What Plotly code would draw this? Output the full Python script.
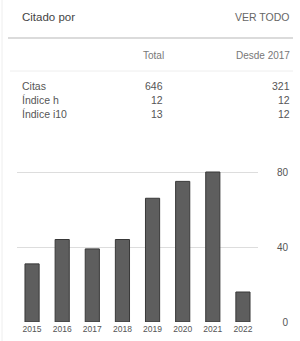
import plotly.graph_objects as go

years = ["2015", "2016", "2017", "2018", "2019", "2020", "2021", "2022"]
citations = [31, 44, 39, 44, 66, 75, 80, 16]
y_ticks = [0, 40, 80]
y_tick_labels = ["\u20070", "40", "80"]

header_title = "Citado por"
header_link = "VER TODO"
col_headers = ["Total", "Desde 2017"]
row_labels = ["Citas", "Índice h", "Índice i10"]
totals = ["646", "12", "13"]
since_2017 = ["321", "12", "12"]

W, H = 300, 341
L, R, T, B = 17, 42, 150, 19
PW = W - L - R
PH = H - T - B
BASE = H - B
YMAX = 80 * PH / 150.0

def px(x):
    return (x - L) / PW

def py(y):
    return (BASE - y) / PH

FONT = "Liberation Sans, Arial, sans-serif"

fig = go.Figure(go.Bar(
    x=years, y=citations,
    marker=dict(color="#5e5e5e", line=dict(color="#383838", width=1)),
    hoverinfo="skip",
))

ann = []
def text(x, y, s, anchor="left", size=11, color="#333"):
    ann.append(dict(x=px(x), y=py(y), xref="paper", yref="paper", text=s,
                    showarrow=False, xanchor=anchor, yanchor="middle",
                    font=dict(family=FONT, size=size, color=color)))

text(20, 17, header_title, "left", 11.5, "#444")
text(291, 17, header_link, "right", 10.5, "#666")
text(166, 56, col_headers[0], "right", 10, "#777")
text(292, 56, col_headers[1], "right", 10, "#777")
for i, lab in enumerate(row_labels):
    yy = 86 + i * 14
    text(20, yy, lab, "left", 10.5, "#555")
    text(165, yy, totals[i], "right", 10.5, "#555")
    text(292, yy, since_2017[i], "right", 10.5, "#555")

shapes = [
    dict(type="line", xref="paper", yref="paper", x0=px(8), x1=px(293), y0=py(38), y1=py(38),
         line=dict(color="#cfcfcf", width=1.5)),
    dict(type="line", xref="paper", yref="paper", x0=px(10), x1=px(293), y0=py(71), y1=py(71),
         line=dict(color="#eeeeee", width=1)),
    dict(type="line", xref="paper", yref="paper", x0=px(2), x1=px(2), y0=py(0), y1=py(341),
         line=dict(color="#eeeeee", width=1)),
]

fig.update_layout(
    width=W, height=H,
    margin=dict(l=L, r=R, t=T, b=B, pad=0, autoexpand=False),
    paper_bgcolor="white", plot_bgcolor="white",
    showlegend=False,
    bargap=0.53,
    annotations=ann,
    shapes=shapes,
    xaxis=dict(type="category", showgrid=False, zeroline=False, showline=False,
               ticks="", tickfont=dict(family=FONT, size=8.5, color="#555"),
               automargin=False, fixedrange=True),
    yaxis=dict(side="right", range=[0, YMAX], tickvals=y_ticks, ticktext=y_tick_labels,
               showgrid=True, gridcolor="#dddddd", gridwidth=1, zeroline=False,
               showline=False, ticks="", ticklabelstandoff=18, automargin=False,
               tickfont=dict(family=FONT, size=10, color="#555"), fixedrange=True),
)

fig.write_html("out.html", config={"displayModeBar": False},
               post_script="document.body.style.margin='0';document.body.style.overflow='hidden';")
